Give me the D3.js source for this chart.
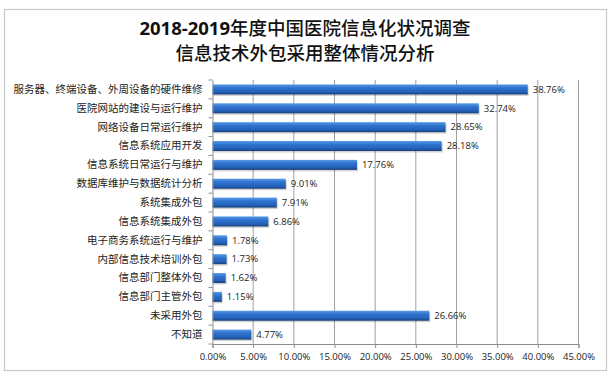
<!DOCTYPE html>
<html><head><meta charset="utf-8">
<script src="https://cdn.jsdelivr.net/npm/d3@7"></script>
<style>html,body{margin:0;padding:0;background:#fff;}</style>
</head><body>
<svg id="c" width="616" height="382"></svg>
<script>
const categories = ["服务器、终端设备、外周设备的硬件维修","医院网站的建设与运行维护","网络设备日常运行维护","信息系统应用开发","信息系统日常运行与维护","数据库维护与数据统计分析","系统集成外包","信息系统集成外包","电子商务系统运行与维护","内部信息技术培训外包","信息部门整体外包","信息部门主管外包","未采用外包","不知道"];
const values = [38.76,32.74,28.65,28.18,17.76,9.01,7.91,6.86,1.78,1.73,1.62,1.15,26.66,4.77];
const ticks = [0,5,10,15,20,25,30,35,40,45];
const titleLine1 = ["2018-2019","年度中国医院信息化状况调查"];
const titleLine2 = "信息技术外包采用整体情况分析";

const svg = d3.select("#c");
const cjk = "'Noto Sans CJK SC','Noto Sans',sans-serif";
const lat = "'Open Sans','Noto Sans','DejaVu Sans',sans-serif";

svg.append("rect").attr("x",4.5).attr("y",9.5).attr("width",602).attr("height",361)
  .attr("fill","#fff").attr("stroke","#c8c8c8").attr("stroke-width",1.2);

const defs = svg.append("defs");
const g1 = defs.append("linearGradient").attr("id","bg").attr("x1",0).attr("y1",0).attr("x2",0).attr("y2",1);
g1.append("stop").attr("offset","0%").attr("stop-color","#5a9be6");
g1.append("stop").attr("offset","35%").attr("stop-color","#2f72cf");
g1.append("stop").attr("offset","75%").attr("stop-color","#2462b8");
g1.append("stop").attr("offset","100%").attr("stop-color","#163f7a");

const t1 = svg.append("text").attr("x",305).attr("y",35).attr("text-anchor","middle")
  .attr("font-size",18.5).attr("fill","#111");
t1.append("tspan").attr("font-family",lat).attr("font-weight","bold").text(titleLine1[0]);
t1.append("tspan").attr("font-family",cjk).attr("font-weight",500).text(titleLine1[1]);
svg.append("text").attr("x",305).attr("y",60).attr("text-anchor","middle")
  .attr("font-size",18.5).attr("font-family",cjk).attr("font-weight",500).attr("fill","#111").text(titleLine2);

const x = d3.scaleLinear().domain([0,45]).range([212.5,578.5]);
const y = d3.scaleBand().domain(categories).range([80,344]).paddingInner(0.47).paddingOuter(0.235);

// grid
svg.append("g").selectAll("line").data(ticks.slice(1)).join("line")
  .attr("x1",d=>x(d)).attr("x2",d=>x(d)).attr("y1",80).attr("y2",344)
  .attr("stroke","#a0a0a0").attr("stroke-width",1);

// bars shadow + bars
const bars = svg.append("g");
bars.selectAll("rect.s").data(values).join("rect").attr("class","s")
  .attr("x",x(0)+1).attr("y",(d,i)=>y(categories[i])+1.5)
  .attr("width",d=>x(d)-x(0)).attr("height",y.bandwidth())
  .attr("fill","#000").attr("opacity",0.18);
bars.selectAll("rect.b").data(values).join("rect").attr("class","b")
  .attr("x",x(0)).attr("y",(d,i)=>y(categories[i]))
  .attr("width",d=>x(d)-x(0)).attr("height",y.bandwidth())
  .attr("fill","url(#bg)");

// value labels
svg.append("g").selectAll("text").data(values).join("text")
  .attr("x",d=>x(d)+5).attr("y",(d,i)=>y(categories[i])+y.bandwidth()/2)
  .attr("dy","0.35em").attr("font-size",9.5).attr("font-family",lat).attr("fill","#222")
  .text(d=>d.toFixed(2)+"%");

// x axis
const xa = svg.append("g").attr("transform","translate(0,344)")
  .call(d3.axisBottom(x).tickValues(ticks).tickSize(4).tickFormat(d=>d.toFixed(2)+"%"));
xa.select(".domain").attr("stroke","#8c8c8c");
xa.selectAll(".tick line").attr("stroke","#8c8c8c");
xa.selectAll("text").attr("font-size",9.5).attr("font-family",lat).attr("fill","#222").attr("dy","0.9em");

// y axis
const ya = svg.append("g").attr("transform","translate(212.5,0)")
  .call(d3.axisLeft(y).tickSize(0).tickPadding(10));
ya.select(".domain").attr("stroke","#8c8c8c");
ya.selectAll("text").attr("font-size",10.5).attr("font-family",cjk).attr("fill","#222");
// category separator ticks
svg.append("g").selectAll("line").data(d3.range(categories.length+1)).join("line")
  .attr("x1",208.5).attr("x2",212.5)
  .attr("y1",i=>80+i*(264/categories.length)).attr("y2",i=>80+i*(264/categories.length))
  .attr("stroke","#8c8c8c");
</script>
</body></html>
